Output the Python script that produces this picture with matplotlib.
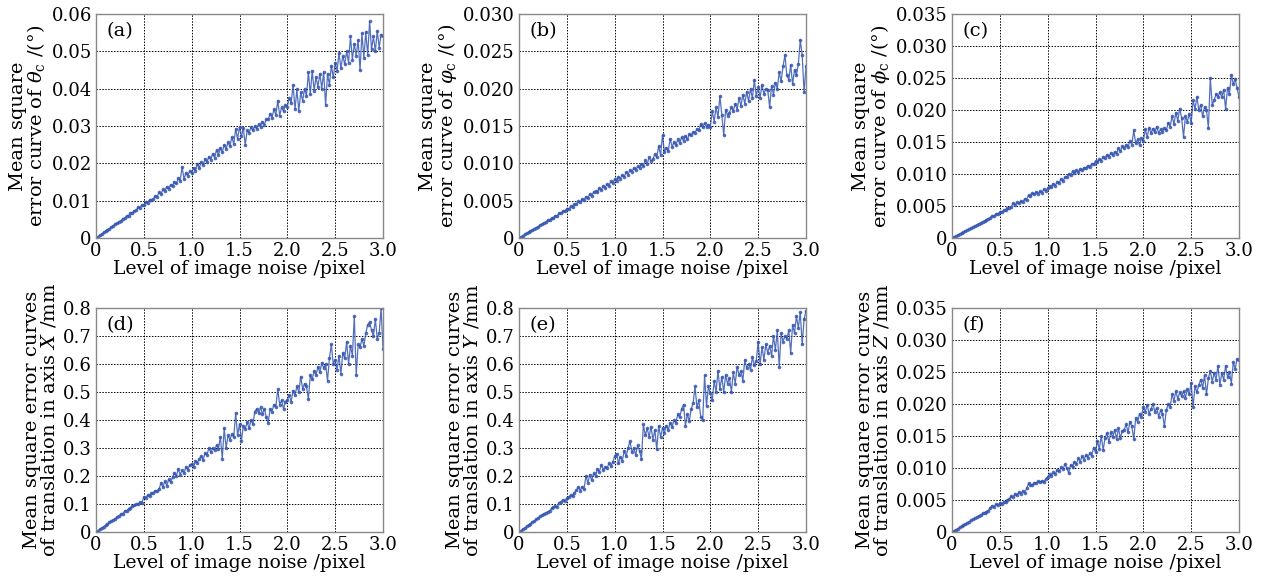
"""Mean square error vs. image noise level, six panels."""

import numpy as np
import matplotlib.pyplot as plt

# noise level grid, 0 .. 3.0 pixel
noise = np.round(np.arange(151) * 0.02, 2)

# (a) theta_c, units of 1e-4 deg
theta_c = [
    0, 4, 7, 11, 15, 18, 22, 25, 29, 33,
    37, 39, 44, 46, 52, 53, 59, 60, 66, 68,
    73, 74, 82, 81, 89, 88, 96, 94, 103, 101,
    104, 113, 111, 123, 118, 130, 126, 137, 132, 143,
    140, 150, 146, 160, 153, 190, 158, 174, 167, 180,
    175, 188, 180, 198, 188, 204, 196, 212, 203, 218,
    210, 226, 215, 236, 222, 242, 230, 250, 238, 256,
    246, 270, 252, 292, 265, 298, 272, 295, 250, 288,
    282, 296, 288, 300, 292, 305, 298, 312, 304, 318,
    318, 332, 322, 345, 330, 368, 328, 350, 340, 356,
    352, 375, 362, 410, 345, 398, 340, 390, 368, 400,
    380, 445, 385, 448, 395, 430, 405, 440, 400, 445,
    355, 440, 410, 462, 430, 470, 448, 495, 455, 488,
    465, 500, 470, 540, 478, 520, 488, 530, 450, 548,
    482, 552, 490, 580, 505, 540, 500, 555, 510, 545, 540,
]

# (b) varphi_c, units of 1e-5 deg
varphi_c = [
    0, 16, 30, 47, 61, 78, 93, 106, 125, 138,
    152, 172, 181, 205, 212, 236, 240, 268, 272, 298,
    300, 330, 332, 362, 362, 395, 390, 425, 420, 455,
    450, 490, 478, 525, 505, 555, 535, 590, 560, 615,
    630, 612, 668, 640, 700, 675, 725, 700, 760, 735,
    790, 760, 820, 795, 845, 820, 880, 850, 910, 885,
    940, 910, 960, 935, 990, 960, 1040, 990, 1080, 1030,
    1060, 1120, 1080, 1230, 1110, 1380, 1150, 1210, 1160, 1330,
    1220, 1280, 1240, 1320, 1270, 1350, 1300, 1370, 1320, 1390,
    1380, 1420, 1410, 1460, 1440, 1530, 1480, 1540, 1490, 1520,
    1490, 1700, 1560, 1750, 1620, 1900, 1650, 1380, 1720, 1640,
    1680, 1750, 1700, 1800, 1720, 1870, 1770, 1920, 1800, 1960,
    1830, 2000, 1870, 2120, 1900, 2020, 1880, 2050, 1930, 2000,
    1980, 1750, 2040, 1920, 2080, 2000, 2220, 2100, 2300, 2450,
    2180, 2120, 2320, 2060, 2250, 2180, 2330, 2650, 2450, 1950, 2300,
]

# (c) phi_c, units of 1e-5 deg
phi_c = [
    0, 15, 33, 46, 64, 78, 96, 110, 127, 141,
    160, 172, 192, 203, 223, 235, 256, 266, 288, 298,
    320, 345, 340, 372, 375, 400, 405, 432, 440, 462,
    470, 490, 540, 520, 560, 540, 580, 565, 610, 600,
    670, 650, 700, 680, 720, 695, 730, 710, 760, 740,
    780, 810, 790, 850, 820, 880, 860, 920, 890, 950,
    960, 1000, 980, 1040, 1010, 1060, 1030, 1080, 1060, 1100,
    1100, 1130, 1110, 1160, 1150, 1200, 1180, 1230, 1210, 1270,
    1250, 1300, 1270, 1330, 1290, 1350, 1320, 1400, 1360, 1430,
    1400, 1460, 1420, 1520, 1460, 1680, 1480, 1540, 1450, 1560,
    1510, 1700, 1580, 1720, 1640, 1710, 1650, 1740, 1640, 1700,
    1660, 1720, 1680, 1800, 1740, 1900, 1780, 1960, 1830, 2020,
    1880, 1580, 1900, 1820, 1940, 1800, 2150, 2020, 2200, 2000,
    2080, 1900, 2050, 2000, 1720, 2500, 2080, 2150, 2250, 2200,
    2280, 2200, 2320, 2010, 2350, 2250, 2550, 2400, 2480, 2350, 2200,
]

# (d) translation X, units of 1e-3 mm
trans_x = [
    0, 5, 9, 15, 19, 24, 28, 34, 39, 43,
    47, 54, 57, 64, 66, 74, 76, 83, 85, 92,
    95, 99, 100, 106, 104, 125, 120, 132, 128, 138,
    140, 148, 145, 155, 175, 160, 182, 165, 188, 178,
    195, 212, 200, 225, 205, 220, 210, 232, 222, 240,
    242, 232, 255, 248, 262, 270, 258, 282, 275, 300,
    285, 300, 292, 310, 298, 340, 262, 370, 300, 345,
    330, 350, 338, 425, 345, 385, 325, 380, 368, 392,
    370, 400, 385, 430, 440, 425, 445, 420, 440, 410,
    390, 440, 430, 455, 448, 510, 455, 470, 440, 465,
    470, 490, 465, 505, 488, 520, 500, 555, 510, 530,
    520, 475, 560, 545, 575, 560, 590, 570, 605, 585,
    600, 540, 620, 670, 600, 615, 580, 630, 565, 640,
    620, 680, 600, 665, 630, 770, 560, 670, 660, 690,
    665, 710, 740, 750, 720, 700, 760, 690, 710, 800, 655,
]

# (e) translation Y, units of 1e-3 mm
trans_y = [
    0, 5, 10, 14, 20, 25, 29, 35, 39, 45,
    50, 56, 60, 66, 68, 72, 76, 84, 88, 92,
    90, 105, 108, 115, 112, 120, 125, 132, 128, 140,
    150, 160, 148, 162, 155, 200, 175, 205, 185, 210,
    200, 225, 215, 240, 222, 232, 228, 245, 235, 250,
    270, 280, 245, 268, 255, 290, 270, 300, 325, 285,
    300, 275, 310, 290, 260, 385, 345, 370, 340, 375,
    330, 365, 295, 380, 340, 370, 355, 380, 365, 390,
    375, 400, 390, 420, 410, 440, 455, 380, 420, 395,
    440, 460, 520, 445, 470, 410, 400, 560, 450, 520,
    495, 470, 540, 500, 575, 510, 555, 500, 560, 530,
    550, 500, 570, 530, 590, 560, 575, 540, 615, 585,
    600, 580, 625, 595, 610, 680, 600, 660, 615, 670,
    640, 665, 630, 700, 650, 720, 590, 710, 680, 700,
    690, 720, 640, 740, 710, 770, 730, 785, 670, 760, 790,
]

# (f) translation Z, units of 1e-5 mm
trans_z = [
    0, 17, 37, 53, 73, 89, 109, 125, 146, 160,
    182, 196, 220, 232, 255, 268, 290, 300, 320, 335,
    380, 410, 395, 430, 420, 450, 440, 470, 465, 495,
    520, 560, 550, 600, 580, 620, 600, 640, 610, 680,
    760, 740, 730, 770, 760, 790, 775, 800, 780, 830,
    860, 900, 880, 930, 910, 970, 950, 1010, 980, 1060,
    1000, 920, 1050, 1010, 1100, 1060, 1150, 1100, 1180, 1130,
    1200, 1160, 1230, 1190, 1320, 1250, 1420, 1300, 1500, 1280,
    1470, 1550, 1400, 1560, 1480, 1600, 1450, 1620, 1470, 1580,
    1600, 1680, 1560, 1720, 1650, 1450, 1780, 1720, 1850, 1800,
    1950, 1880, 1980, 1850, 1920, 2000, 1880, 1940, 1800, 1900,
    1850, 1650, 1900, 2000, 1950, 2150, 2050, 2200, 2080, 2180,
    2120, 2200, 2100, 2230, 2150, 2330, 1950, 2280, 2180, 2300,
    2380, 2250, 2450, 2150, 2400, 2520, 2350, 2480, 2380, 2600,
    2300, 2480, 2380, 2600, 2420, 2500, 2320, 2650, 2550, 2700, 2680,
]

x_ticks = [0, 0.5, 1.0, 1.5, 2.0, 2.5, 3.0]
x_ticklabels = ["0", "0.5", "1.0", "1.5", "2.0", "2.5", "3.0"]

panels = [
    ("(a)", theta_c, 1e-4, 0.06, 0.01, "{:.2f}",
     "Mean square\nerror curve of $\\theta_{\\rm c}$ /(°)"),
    ("(b)", varphi_c, 1e-5, 0.030, 0.005, "{:.3f}",
     "Mean square\nerror curve of $\\varphi_{\\rm c}$ /(°)"),
    ("(c)", phi_c, 1e-5, 0.035, 0.005, "{:.3f}",
     "Mean square\nerror curve of $\\phi_{\\rm c}$ /(°)"),
    ("(d)", trans_x, 1e-3, 0.8, 0.1, "{:.1f}",
     "Mean square error curves\nof translation in axis $X$ /mm"),
    ("(e)", trans_y, 1e-3, 0.8, 0.1, "{:.1f}",
     "Mean square error curves\nof translation in axis $Y$ /mm"),
    ("(f)", trans_z, 1e-5, 0.035, 0.005, "{:.3f}",
     "Mean square error curves\nof translation in axis $Z$ /mm"),
]

plt.rcParams["font.family"] = ["DejaVu Serif"]
plt.rcParams["mathtext.fontset"] = "dejavuserif"

W, H = 1269, 587
fig = plt.figure(figsize=(W / 100, H / 100), dpi=100)

lefts = [96, 519, 952]
tops = [14, 308]
ax_w, ax_h = 287, 224
line_color = "#3556b0"

for k, (tag, vals, scale, ymax, ystep, fmt, ylabel) in enumerate(panels):
    col, row = k % 3, k // 3
    ax = fig.add_axes([lefts[col] / W, (H - tops[row] - ax_h) / H, ax_w / W, ax_h / H])
    y = np.array(vals) * scale
    ax.plot(noise, y, color=line_color, lw=0.9, alpha=0.85,
            marker="o", ms=2.6, mfc=line_color, mec=line_color, mew=0)
    ax.set_xlim(0, 3.0)
    ax.set_ylim(0, ymax)
    ax.set_xticks(x_ticks)
    ax.set_xticklabels(x_ticklabels)
    yt = np.round(np.arange(0, ymax + ystep / 2, ystep), 4)
    ax.set_yticks(yt)
    ax.set_yticklabels(["0"] + [fmt.format(v) for v in yt[1:]])
    ax.tick_params(labelsize=13, length=0, pad=3)
    ax.grid(True, color="black", ls=(0, (1.5, 1.5)), lw=0.7)
    for s in ax.spines.values():
        s.set_color("#888888")
        s.set_linewidth(1.0)
    ax.set_xlabel("Level of image noise /pixel", fontsize=13.5, labelpad=0)
    ax.set_ylabel(ylabel, fontsize=14, labelpad=3, linespacing=0.9)
    ax.text(0.035, 0.965, tag, transform=ax.transAxes, fontsize=14,
            ha="left", va="top")

fig.savefig("out.png", dpi=100)
